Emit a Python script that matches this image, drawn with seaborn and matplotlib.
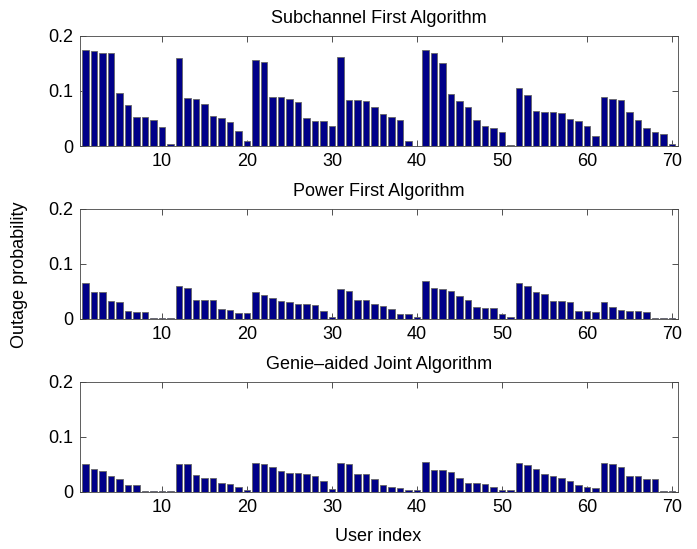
import numpy as np
import pandas as pd
import seaborn as sns
import matplotlib.pyplot as plt

sns.set_style("ticks")
plt.rcParams['font.family'] = ['Liberation Sans', 'DejaVu Sans']
plt.rcParams['text.color'] = 'black'
plt.rcParams['xtick.labelcolor'] = 'black'
plt.rcParams['ytick.labelcolor'] = 'black'

users = list(range(1, 71))

subchannel_first = [
    0.174, 0.172, 0.169, 0.169, 0.097, 0.075, 0.053, 0.052, 0.047, 0.034,
    0.003, 0.160, 0.087, 0.086, 0.077, 0.055, 0.050, 0.044, 0.028, 0.010,
    0.156, 0.153, 0.089, 0.088, 0.086, 0.079, 0.050, 0.046, 0.046, 0.037,
    0.161, 0.083, 0.083, 0.081, 0.071, 0.058, 0.053, 0.047, 0.010, 0.000,
    0.174, 0.168, 0.150, 0.094, 0.081, 0.071, 0.048, 0.037, 0.033, 0.025,
    0.001, 0.105, 0.092, 0.064, 0.061, 0.061, 0.060, 0.049, 0.045, 0.037,
    0.019, 0.088, 0.086, 0.083, 0.061, 0.047, 0.033, 0.026, 0.022, 0.003,
]

power_first = [
    0.065, 0.048, 0.048, 0.032, 0.031, 0.015, 0.013, 0.012, 0.002, 0.002,
    0.001, 0.060, 0.056, 0.035, 0.035, 0.034, 0.018, 0.017, 0.011, 0.010,
    0.048, 0.044, 0.038, 0.032, 0.030, 0.028, 0.027, 0.026, 0.015, 0.004,
    0.054, 0.050, 0.035, 0.034, 0.027, 0.023, 0.018, 0.009, 0.009, 0.004,
    0.068, 0.056, 0.054, 0.050, 0.042, 0.034, 0.021, 0.019, 0.019, 0.009,
    0.004, 0.066, 0.059, 0.048, 0.046, 0.033, 0.032, 0.031, 0.014, 0.014,
    0.012, 0.030, 0.021, 0.016, 0.015, 0.014, 0.012, 0.001, 0.001, 0.001,
]

genie_joint = [
    0.051, 0.041, 0.037, 0.029, 0.023, 0.013, 0.012, 0.002, 0.002, 0.001,
    0.001, 0.050, 0.050, 0.031, 0.026, 0.026, 0.017, 0.015, 0.009, 0.003,
    0.053, 0.051, 0.045, 0.037, 0.035, 0.034, 0.032, 0.029, 0.020, 0.005,
    0.052, 0.050, 0.032, 0.032, 0.024, 0.012, 0.009, 0.007, 0.004, 0.004,
    0.055, 0.040, 0.040, 0.036, 0.026, 0.016, 0.016, 0.015, 0.008, 0.004,
    0.004, 0.053, 0.048, 0.041, 0.032, 0.029, 0.025, 0.019, 0.012, 0.008,
    0.007, 0.053, 0.051, 0.045, 0.029, 0.029, 0.024, 0.023, 0.002, 0.002,
]

titles = ["Subchannel First Algorithm", "Power First Algorithm",
          "Genie\u2013aided Joint Algorithm"]
series = [subchannel_first, power_first, genie_joint]

fig = plt.figure(figsize=(6.97, 5.49), dpi=100)
bottoms = [0.734, 0.419, 0.104]

for b, title, vals in zip(bottoms, titles, series):
    ax = fig.add_axes([0.1148, b, 0.858, 0.201])
    df = pd.DataFrame({"user": users, "p": vals})
    sns.barplot(data=df, x="user", y="p", native_scale=True, ax=ax,
                color="#000088", saturation=1, width=0.8,
                edgecolor="#666666", linewidth=0.6)
    ax.set_xlim(0.35, 70.7)
    ax.set_ylim(0, 0.2)
    ax.set_xticks([10, 20, 30, 40, 50, 60, 70])
    ax.set_yticks([0, 0.1, 0.2])
    ax.set_yticklabels(["0", "0.1", "0.2"])
    ax.tick_params(direction="in", top=True, right=True, labelsize=13,
                   length=4, width=0.6, color="#333333", pad=5)
    for s in ax.spines.values():
        s.set_linewidth(0.6)
        s.set_color("#444444")
    ax.set_title(title, fontsize=13, pad=9, color="black")
    ax.set_xlabel("")
    ax.set_ylabel("")

fig.text(0.028, 0.5, "Outage probability", rotation=90, fontsize=13,
         ha="center", va="center", color="black")
fig.text(0.543, 0.022, "User index", fontsize=13, ha="center", va="center",
         color="black")

plt.savefig("out.png", dpi=100)
